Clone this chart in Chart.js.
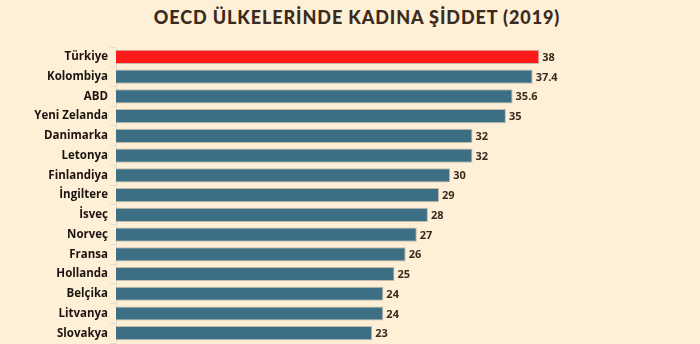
<!DOCTYPE html>
<html>
<head>
<meta charset="utf-8">
<script src="https://cdn.jsdelivr.net/npm/chart.js@4.4.0/dist/chart.umd.min.js"></script>
<style>
  html, body { margin: 0; padding: 0; background: #fef0d6; }
  #wrap { width: 700px; height: 344px; position: relative; overflow: hidden; }
  h1 {
    position: absolute; left: 14px; top: 6px; width: 686px; margin: 0;
    text-align: center; font: 900 18px Lato, sans-serif; color: #3b2a20;
    letter-spacing: 0.9px;
  }
  #box { position: absolute; left: 0; top: 0; width: 700px; height: 352px; }
</style>
</head>
<body>
<div id="wrap">
  <h1>OECD ÜLKELERİNDE KADINA ŞİDDET (2019)</h1>
  <div id="box"><canvas id="chart"></canvas></div>
</div>
<script>
// countries and violence rates (%)
const countries = ['Türkiye', 'Kolombiya', 'ABD', 'Yeni Zelanda', 'Danimarka', 'Letonya',
  'Finlandiya', 'İngiltere', 'İsveç', 'Norveç', 'Fransa', 'Hollanda', 'Belçika', 'Litvanya', 'Slovakya'];
const rates = [38, 37.4, 35.6, 35, 32, 32, 30, 29, 28, 27, 26, 25, 24, 24, 23];
const barColors = countries.map(c => c === 'Türkiye' ? '#ff1a1a' : '#3c6f84');

// value labels at the end of each bar
const valueLabels = {
    id: 'valueLabels',
    afterDatasetsDraw(chart) {
        const ctx = chart.ctx;
        const meta = chart.getDatasetMeta(0);
        ctx.save();
        ctx.font = 'bold 11px "Open Sans", sans-serif';
        ctx.fillStyle = '#3b2a20';
        ctx.textBaseline = 'middle';
        meta.data.forEach((bar, i) => {
            ctx.fillText(String(rates[i]), bar.x + 3, bar.y + 1);
        });
        ctx.restore();
    }
};

new Chart(document.getElementById('chart'), {
    type: 'bar',
    data: {
        labels: countries,
        datasets: [{
            data: rates,
            backgroundColor: barColors,
            borderColor: 'rgba(190,180,165,0.9)',
            borderWidth: 1,
            categoryPercentage: 1,
            barPercentage: 0.72
        }]
    },
    options: {
        indexAxis: 'y',
        responsive: true,
        maintainAspectRatio: false,
        animation: false,
        layout: { padding: { top: 47, bottom: 0, left: 0, right: 27 } },
        plugins: {
            legend: { display: false },
            tooltip: { enabled: false }
        },
        scales: {
            x: {
                display: false,
                min: 0,
                max: 50
            },
            y: {
                afterFit(scale) { scale.width = 116; },
                grid: {
                    display: true,
                    drawOnChartArea: false,
                    color: '#e6dccb',
                    tickLength: 6
                },
                border: { color: '#e6dccb' },
                ticks: {
                    color: '#1c1410',
                    padding: 2,
                    font: { family: '"Open Sans", sans-serif', size: 11.5, weight: 'bold' }
                }
            }
        }
    },
    plugins: [valueLabels]
});
</script>
</body>
</html>
